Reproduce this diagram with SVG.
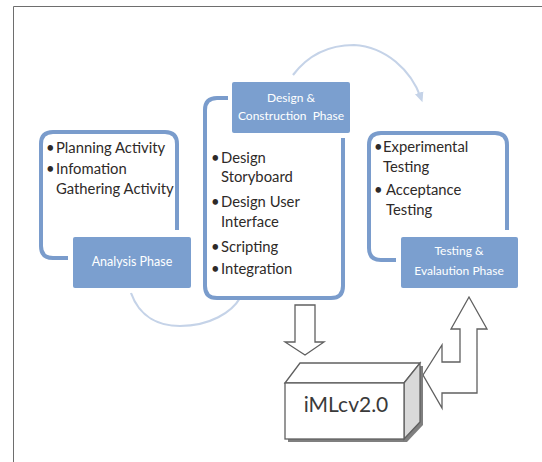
<svg xmlns="http://www.w3.org/2000/svg" width="542" height="462" viewBox="0 0 542 462">
<style>
.frame{fill:none;stroke:#7a9ccc;stroke-width:4;stroke-linecap:butt}
.hdr{fill:#7b9fcf}
.ht{font-family:Lato,"Liberation Sans",sans-serif;font-size:12px;fill:#ffffff;text-anchor:middle;white-space:pre}
.it{font-family:Lato,"Liberation Sans",sans-serif;font-size:14.8px;fill:#2e2a28}
.arc{fill:none;stroke:#c5d3e8;stroke-width:2.2}
.blk{fill:#ffffff;stroke:#606060;stroke-width:1.3;stroke-linejoin:miter}
</style>
<defs>
<marker id="ah" viewBox="0 0 10 10" refX="5" refY="5" markerWidth="5" markerHeight="5" orient="auto">
<path d="M0,1 L9,5 L0,9 z" fill="#c5d3e8"/>
</marker>
</defs>
<rect width="542" height="462" fill="#ffffff"/>
<path d="M542 6.5 H13.5 V462" fill="none" stroke="#6e6e6e" stroke-width="1"/>

<g id="connectors">
<path class="arc" d="M293 75 C312 50 336 45 354 45 C386 47 411 70 421 98" marker-end="url(#ah)"/>
<path class="arc" d="M131 293 C140 318 160 326 180 326 C210 326 232 312 240 298"/>
<polygon class="blk" points="295,305 315,305 315,342 324,342 305,355 285,342 295,342"/>
<polygon class="blk" points="423,375 442,345 442,362 460,362 460,329 451,329 469,297 487,329 477,329 477,393 442,393 442,408"/>
</g>

<g id="analysis">
<path class="frame" d="M177 230 V144 Q177 132 165 132 H53 Q41 132 41 144 V246 Q41 258 53 258 H68"/>
<rect class="hdr" x="73" y="237" width="118" height="51" rx="2"/>
<text class="ht" x="132" y="266" style="font-size:12.5px">Analysis Phase</text>
<text class="it" x="46" y="153">•</text>
<text class="it" x="56" y="153">Planning Activity</text>
<text class="it" x="46" y="174">•</text>
<text class="it" x="56" y="174">Infomation</text>
<text class="it" x="56" y="194">Gathering Activity</text>
</g>

<g id="design">
<path class="frame" d="M228 98 H217 Q205 98 205 110 V286 Q205 298 217 298 H331 Q343 298 343 286 V138"/>
<rect class="hdr" x="232" y="82" width="118" height="51" rx="2"/>
<text class="ht" x="291" y="102">Design &amp;</text>
<text class="ht" x="291" y="120">Construction  Phase</text>
<text class="it" x="211" y="163">•</text>
<text class="it" x="221" y="163">Design</text>
<text class="it" x="221" y="182">Storyboard</text>
<text class="it" x="211" y="207">•</text>
<text class="it" x="221" y="207">Design User</text>
<text class="it" x="221" y="227">Interface</text>
<text class="it" x="211" y="252">•</text>
<text class="it" x="221" y="252">Scripting</text>
<text class="it" x="211" y="274">•</text>
<text class="it" x="221" y="274">Integration</text>
</g>

<g id="testing">
<path class="frame" d="M507 230 V145 Q507 133 495 133 H381 Q369 133 369 145 V248 Q369 260 381 260 H396"/>
<rect class="hdr" x="401" y="237" width="117" height="51" rx="2"/>
<text class="ht" x="459" y="255">Testing &amp;</text>
<text class="ht" x="459" y="275">Evalaution Phase</text>
<text class="it" x="374" y="152">•</text>
<text class="it" x="383" y="152">Experimental</text>
<text class="it" x="383" y="172">Testing</text>
<text class="it" x="374" y="195">•</text>
<text class="it" x="386" y="195">Acceptance</text>
<text class="it" x="386" y="215">Testing</text>
</g>

<g id="imlcv">
<polygon points="288,386 303,366 423,366 423,425 407,442 288,442" fill="#7f7f7f"/>
<polygon class="blk" points="285,383 300,363 420,363 404,383"/>
<polygon class="blk" points="404,383 420,363 420,422 404,439" style="fill:#d9d9d9"/>
<rect class="blk" x="285" y="383" width="119" height="56"/>
<text x="346" y="412" font-family="Lato,'Liberation Sans',sans-serif" font-size="21" fill="#3a3a3a" text-anchor="middle">iMLcv2.0</text>
</g>
</svg>
